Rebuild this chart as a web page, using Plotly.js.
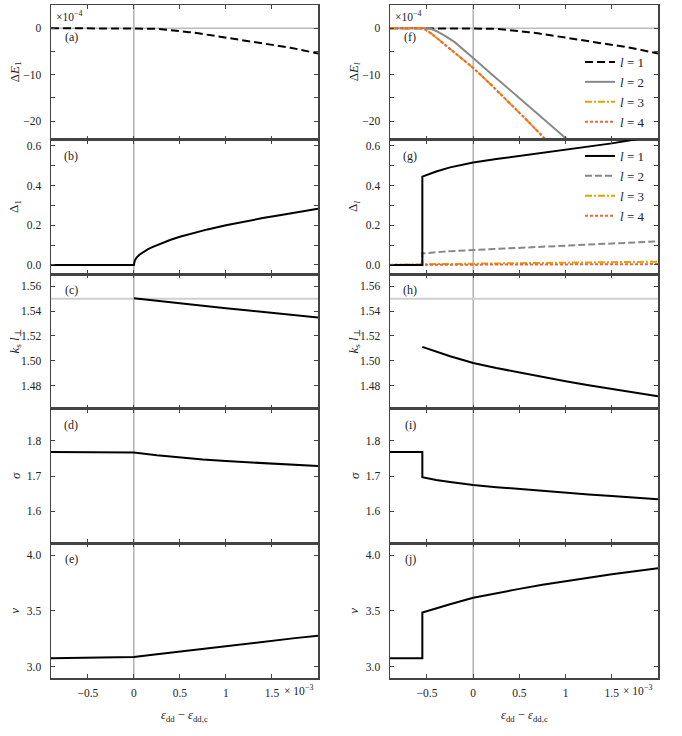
<!DOCTYPE html>
<html>
<head>
<meta charset="utf-8">
<script src="https://cdn.plot.ly/plotly-3.0.1.min.js"></script>
<style>
  body { margin: 0; background: #fff; }
  #plot { width: 682px; height: 736px; }
</style>
</head>
<body>
<div id="plot"></div>
<script>
// x values are in units of 1e-3 (eps_dd - eps_dd,c)
var xTicks = [-0.5, 0, 0.5, 1, 1.5];
var xTickText = ["\u22120.5", "0", "0.5", "1", "1.5"];

// Delta E_l, units of 1e-4
var xE1 = [-0.9, 0, 0.1, 0.2, 0.3, 0.4, 0.5, 0.6, 0.7, 0.8, 0.9, 1.0, 1.1, 1.2, 1.3, 1.4, 1.5, 1.6, 1.7, 1.8, 1.9, 2.0];
var yE1 = [0, 0, -0.03, -0.1, -0.22, -0.4, -0.6, -0.85, -1.1, -1.4, -1.7, -2.0, -2.3, -2.6, -2.9, -3.2, -3.5, -3.85, -4.2, -4.6, -5.0, -5.45];
var xE2 = [-0.9, -0.47, -0.4, -0.3, -0.2, -0.1, 0, 0.2, 0.4, 0.6, 0.8, 1.0, 1.1];
var yE2 = [0, 0, -0.6, -1.7, -3.0, -4.6, -6.4, -9.9, -13.3, -16.7, -20.1, -23.6, -25.4];
var xE34 = [-0.9, -0.54, -0.45, -0.35, -0.25, -0.1, 0, 0.2, 0.4, 0.6, 0.8];
var yE3 = [0, 0, -1.2, -2.8, -4.4, -6.8, -8.55, -12.3, -16.2, -20.2, -24.3];
var yE4 = [0, 0, -1.2, -2.8, -4.4, -6.8, -8.55, -12.3, -16.2, -20.2, -24.3];

// Delta_l
var xD1 = [-0.9, 0, 0.01, 0.03, 0.06, 0.1, 0.15, 0.2, 0.3, 0.4, 0.5, 0.6, 0.8, 1.0, 1.2, 1.4, 1.6, 1.8, 2.0];
var yD1 = [0, 0, 0.022, 0.037, 0.051, 0.065, 0.078, 0.09, 0.11, 0.127, 0.142, 0.155, 0.179, 0.2, 0.219, 0.236, 0.252, 0.268, 0.283];
var xJump = [-0.9, -0.55, -0.55, -0.5, -0.4, -0.25, 0, 0.25, 0.5, 0.75, 1.0, 1.25, 1.5, 1.75, 2.0];
var yG1 = [0, 0, 0.445, 0.455, 0.471, 0.492, 0.517, 0.534, 0.55, 0.565, 0.58, 0.597, 0.613, 0.633, 0.65];
var yG2 = [0, 0, 0.058, 0.06, 0.064, 0.069, 0.075, 0.081, 0.086, 0.092, 0.097, 0.102, 0.108, 0.113, 0.119];
var yG3 = [0, 0, 0.002, 0.003, 0.004, 0.005, 0.006, 0.0075, 0.009, 0.0105, 0.012, 0.013, 0.014, 0.015, 0.016];
var yG4 = [0, 0, 0.001, 0.001, 0.0015, 0.0015, 0.002, 0.002, 0.0025, 0.0025, 0.003, 0.003, 0.0035, 0.0035, 0.004];

// k_s l_perp
var xK1 = [0, 0.25, 0.5, 0.75, 1.0, 1.25, 1.5, 1.75, 2.0];
var yK1 = [1.5503, 1.5482, 1.5462, 1.5442, 1.5423, 1.5405, 1.5388, 1.537, 1.5349];
var xK2 = [-0.55, -0.4, -0.25, -0.1, 0, 0.25, 0.5, 0.75, 1.0, 1.25, 1.5, 1.75, 2.0];
var yK2 = [1.5112, 1.5073, 1.5037, 1.5004, 1.4983, 1.4942, 1.4905, 1.4869, 1.4836, 1.4804, 1.4773, 1.4743, 1.4714];

// sigma and nu
var xLeft = [-0.9, 0, 0.25, 0.5, 0.75, 1.0, 1.25, 1.5, 1.75, 2.0];
var yS1 = [1.7686, 1.7667, 1.759, 1.7525, 1.747, 1.7425, 1.7388, 1.7355, 1.732, 1.7285];
var yS2 = [1.7686, 1.7686, 1.697, 1.694, 1.689, 1.683, 1.6745, 1.6685, 1.663, 1.658, 1.653, 1.648, 1.6435, 1.639, 1.6345];
var yN1 = [3.076, 3.087, 3.112, 3.137, 3.163, 3.187, 3.21, 3.235, 3.257, 3.279];
var yN2 = [3.077, 3.077, 3.487, 3.5, 3.525, 3.56, 3.618, 3.66, 3.698, 3.735, 3.768, 3.8, 3.828, 3.856, 3.883];

// reference lines
var refX = 0;
var refE = 0;
var refK = 1.55;

var W = 682, H = 736;
var FONT = "Liberation Serif, DejaVu Serif, serif";
var rowEdges = [5, 139.6, 274.2, 408.8, 543.4, 678];
var colEdges = [[51, 318], [390, 658]];

var panels = [
  { label: "(a)", ytitle: "\u0394<i>E</i><sub>1</sub>", range: [-24, 5], tickvals: [-20, -15, -10, -5, 0], ticktext: ["\u221220", "", "\u221210", "", "0"] },
  { label: "(b)", ytitle: "\u0394<sub>1</sub>", range: [-0.047, 0.632], tickvals: [0, 0.1, 0.2, 0.3, 0.4, 0.5, 0.6], ticktext: ["0.0", "", "0.2", "", "0.4", "", "0.6"] },
  { label: "(c)", ytitle: "<i>k</i><sub>s</sub> <i>l</i><sub>\u22a5</sub>", range: [1.4614, 1.5697], tickvals: [1.48, 1.5, 1.52, 1.54, 1.56], ticktext: ["1.48", "1.50", "1.52", "1.54", "1.56"] },
  { label: "(d)", ytitle: "<i>\u03c3</i>", range: [1.509, 1.891], tickvals: [1.6, 1.7, 1.8], ticktext: ["1.6", "1.7", "1.8"] },
  { label: "(e)", ytitle: "<i>\u03bd</i>", range: [2.9, 4.105], tickvals: [3.0, 3.5, 4.0], ticktext: ["3.0", "3.5", "4.0"] },
  { label: "(f)", ytitle: "\u0394<i>E<sub>l</sub></i>" },
  { label: "(g)", ytitle: "\u0394<sub><i>l</i></sub>" },
  { label: "(h)", ytitle: "<i>k</i><sub>s</sub> <i>l</i><sub>\u22a5</sub>" },
  { label: "(i)", ytitle: "<i>\u03c3</i>" },
  { label: "(j)", ytitle: "<i>\u03bd</i>" },
];

function px2x(p) { return p / W; }
function px2y(p) { return 1 - p / H; }
function sfx(i) { return i === 1 ? "" : String(i); }

function note(xpx, ypx, text, size, extra) {
  var a = {
    xref: "paper", yref: "paper", x: px2x(xpx), y: px2y(ypx),
    xanchor: "center", yanchor: "middle",
    text: text, showarrow: false,
    font: { family: FONT, size: size, color: "#222" },
  };
  return Object.assign(a, extra || {});
}

var layout = {
  width: W,
  height: H,
  margin: { l: 0, r: 0, t: 0, b: 0 },
  paper_bgcolor: "#fff",
  plot_bgcolor: "#fff",
  font: { family: FONT, size: 11, color: "#222" },
  showlegend: true,
  legend: {
    x: px2x(580), y: px2y(47), xanchor: "left", yanchor: "top",
    bgcolor: "rgba(0,0,0,0)", font: { family: FONT, size: 13, color: "#222" },
  },
  legend2: {
    x: px2x(580), y: px2y(141), xanchor: "left", yanchor: "top",
    bgcolor: "rgba(0,0,0,0)", font: { family: FONT, size: 13, color: "#222" },
  },
  shapes: [],
  annotations: [],
};

for (var c = 0; c < 2; c++) {
  for (var r = 0; r < 5; r++) {
    var i = c * 5 + r + 1;
    var p = panels[r]; // left column defines the y scale of the row
    var s = sfx(i);
    layout["xaxis" + s] = {
      domain: [px2x(colEdges[c][0]), px2x(colEdges[c][1])],
      anchor: "y" + s,
      range: [-0.9, 2.0],
      tickvals: xTicks,
      ticktext: xTickText,
      showticklabels: r === 4,
      ticks: "inside", ticklen: 4, tickwidth: 1, tickcolor: "#444",
      showline: true, mirror: "allticks", linecolor: "#444", linewidth: 1.5,
      showgrid: false, zeroline: false,
      ticklabelstandoff: 4,
      tickfont: { family: FONT, size: 11.5, color: "#222" },
    };
    layout["yaxis" + s] = {
      domain: [px2y(rowEdges[r + 1]), px2y(rowEdges[r])],
      anchor: "x" + s,
      range: p.range,
      tickvals: p.tickvals,
      ticktext: p.ticktext,
      ticks: "inside", ticklen: 4, tickwidth: 1, tickcolor: "#444",
      showline: true, mirror: "allticks", linecolor: "#444", linewidth: 1.5,
      showgrid: false, zeroline: false,
      ticklabelstandoff: 6,
      tickfont: { family: FONT, size: 11.5, color: "#222" },
    };

    // vertical line at the critical point
    layout.shapes.push({
      type: "line", xref: "x" + s, yref: "y" + s + " domain",
      x0: refX, x1: refX, y0: 0, y1: 1,
      line: { color: "#8a8a8a", width: 1 }, layer: "below",
    });

    var rowTop = rowEdges[r];
    // panel letter
    layout.annotations.push(note(colEdges[c][0] + 20, rowTop + (r === 0 ? 32 : 16), panels[i - 1].label, 12));
    // y axis title
    layout.annotations.push(note(colEdges[c][0] - 36, (rowEdges[r] + rowEdges[r + 1]) / 2,
      panels[i - 1].ytitle, 13, { textangle: -90 }));
  }

  // x axis title and exponents
  layout.annotations.push(note((colEdges[c][0] + colEdges[c][1]) / 2, 716,
    "<i>\u03b5</i><sub>dd</sub> \u2212 <i>\u03b5</i><sub>dd,c</sub>", 12.5));
  layout.annotations.push(note(colEdges[c][0] + 231, 690, "\u00d7 10<sup>\u22123</sup>", 11.5, { xanchor: "left" }));
  layout.annotations.push(note(colEdges[c][0] + 3, 16, "\u00d710<sup>\u22124</sup>", 11.5, { xanchor: "left" }));

  // light reference lines: Delta E = 0 and k_s l = 1.55
  var sTop = sfx(c * 5 + 1), sK = sfx(c * 5 + 3);
  layout.shapes.push({
    type: "line", xref: "x" + sTop + " domain", yref: "y" + sTop,
    x0: 0, x1: 1, y0: refE, y1: refE,
    line: { color: "#bdbdbd", width: 1.5 }, layer: "below",
  });
  layout.shapes.push({
    type: "line", xref: "x" + sK + " domain", yref: "y" + sK,
    x0: 0, x1: 1, y0: refK, y1: refK,
    line: { color: "#cfcfcf", width: 2 }, layer: "below",
  });
}

var BLACK = "#000000", GRAY = "#888888", ORANGE = "#E69F00", RED = "#F0643C";
var l1 = "<i>l</i> = 1", l2 = "<i>l</i> = 2", l3 = "<i>l</i> = 3", l4 = "<i>l</i> = 4";

function line(x, y, ax, color, dash, opts) {
  var t = {
    x: x, y: y, xaxis: "x" + ax, yaxis: "y" + ax,
    mode: "lines", type: "scatter", hoverinfo: "skip",
    line: { color: color, width: 2, dash: dash },
    showlegend: false, cliponaxis: true,
  };
  return Object.assign(t, opts || {});
}

var data = [
  // left column
  line(xE1, yE1, "", BLACK, "8px,4px"),
  line(xD1, yD1, "2", BLACK, "solid"),
  line(xK1, yK1, "3", BLACK, "solid"),
  line(xLeft, yS1, "4", BLACK, "solid"),
  line(xLeft, yN1, "5", BLACK, "solid"),
  // (f)
  line(xE1, yE1, "6", BLACK, "8px,4px", { name: l1, showlegend: true, legend: "legend" }),
  line(xE2, yE2, "6", GRAY, "solid", { name: l2, showlegend: true, legend: "legend" }),
  line(xE34, yE3, "6", ORANGE, "7px,2px,2px,2px", { name: l3, showlegend: true, legend: "legend" }),
  line(xE34, yE4, "6", RED, "3px,2px", { name: l4, showlegend: true, legend: "legend" }),
  // (g)
  line(xJump, yG2, "7", GRAY, "7px,3px", { name: l2, showlegend: true, legend: "legend2", legendrank: 2 }),
  line(xJump, yG3, "7", ORANGE, "7px,2px,2px,2px", { name: l3, showlegend: true, legend: "legend2", legendrank: 3 }),
  line(xJump, yG4, "7", RED, "3px,2px", { name: l4, showlegend: true, legend: "legend2", legendrank: 4 }),
  line(xJump, yG1, "7", BLACK, "solid", { name: l1, showlegend: true, legend: "legend2", legendrank: 1 }),
  // (h)-(j)
  line(xK2, yK2, "8", BLACK, "solid"),
  line(xJump, yS2, "9", BLACK, "solid"),
  line(xJump, yN2, "10", BLACK, "solid"),
];

Plotly.newPlot("plot", data, layout, { staticPlot: true });
</script>
</body>
</html>
